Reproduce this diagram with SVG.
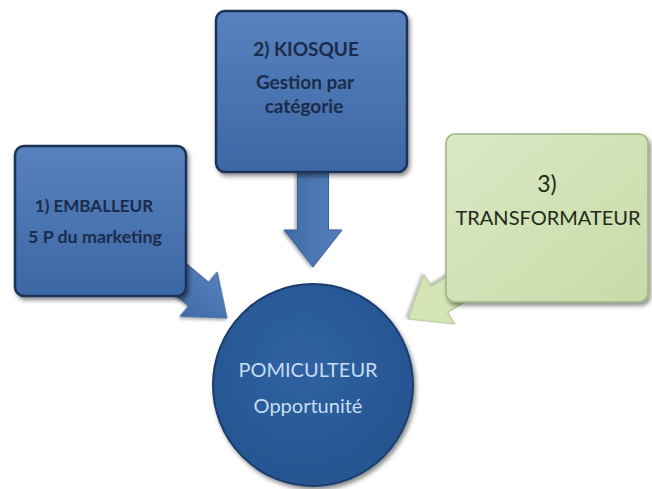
<svg xmlns="http://www.w3.org/2000/svg" width="652" height="489" viewBox="0 0 652 489">
<defs>
<linearGradient id="gBlue" x1="0" y1="0" x2="0" y2="1">
<stop offset="0" stop-color="#5882bd"/>
<stop offset="1" stop-color="#3c67a5"/>
</linearGradient>
<linearGradient id="gGreen" x1="0" y1="0" x2="1" y2="1">
<stop offset="0" stop-color="#dbe8c4"/>
<stop offset="1" stop-color="#c8dba8"/>
</linearGradient>
<linearGradient id="gArrowBlue" x1="0" y1="0" x2="0" y2="1">
<stop offset="0" stop-color="#5580bc"/>
<stop offset="1" stop-color="#3f6aa7"/>
</linearGradient>
<radialGradient id="gCircle" cx="0.45" cy="0.4" r="0.65">
<stop offset="0" stop-color="#2f62a2"/>
<stop offset="1" stop-color="#24548f"/>
</radialGradient>
<filter id="shadow" x="-10%" y="-10%" width="125%" height="125%">
<feDropShadow dx="2" dy="3" stdDeviation="2" flood-color="#000" flood-opacity="0.45"/>
</filter>
<filter id="shadowLight" x="-10%" y="-10%" width="125%" height="125%">
<feDropShadow dx="1" dy="2" stdDeviation="1.5" flood-color="#000" flood-opacity="0.3"/>
</filter>
<polygon id="arrowShape" points="0,0 -37,-29 -37,-15.5 -110,-15.5 -110,15.5 -37,15.5 -37,29"/>
</defs>
<style>
.boxBlue{fill:url(#gBlue);stroke:#1c3356;stroke-width:2.5;filter:url(#shadow)}
.boxGreen{fill:url(#gGreen);stroke:#9fb384;stroke-width:1.5;filter:url(#shadow)}
.arrowBlue{fill:url(#gArrowBlue);stroke:#3a6199;stroke-width:1;filter:url(#shadowLight)}
.arrowGreen{fill:#d4e4b6;stroke:#aabd8f;stroke-width:1;filter:url(#shadowLight)}
.circle{fill:url(#gCircle);stroke:#1a3d6c;stroke-width:2;filter:url(#shadow)}
.tDark{font-family:Lato,"Open Sans","Liberation Sans",sans-serif;font-weight:bold;fill:#1b2b4a;text-anchor:middle}
.tGreen{font-family:Lato,"Open Sans","Liberation Sans",sans-serif;font-weight:normal;fill:#1f2a17;text-anchor:middle}
.tLight{font-family:Lato,"Open Sans","Liberation Sans",sans-serif;font-weight:normal;fill:#c9dcf1;text-anchor:middle}
</style>
<rect width="652" height="489" fill="#ffffff"/>
<g id="connectors">
<use href="#arrowShape" class="arrowBlue" transform="translate(227,318) rotate(40)"/>
<use href="#arrowShape" class="arrowBlue" transform="translate(313,267) rotate(90)"/>
<use href="#arrowShape" class="arrowGreen" transform="translate(408,319) rotate(148)"/>
</g>
<g id="node-emballeur">
<rect class="boxBlue" x="15" y="146" width="171" height="150" rx="9"/>
<text class="tDark" x="94" y="212" font-size="17">1) EMBALLEUR</text>
<text class="tDark" x="95" y="243" font-size="17" textLength="134" lengthAdjust="spacingAndGlyphs">5 P du marketing</text>
</g>
<g id="node-kiosque">
<rect class="boxBlue" x="216" y="11" width="191" height="161" rx="9"/>
<text class="tDark" x="306" y="56" font-size="19">2) KIOSQUE</text>
<text class="tDark" x="305" y="89" font-size="19">Gestion par</text>
<text class="tDark" x="304" y="113" font-size="19">catégorie</text>
</g>
<g id="node-transformateur">
<rect class="boxGreen" x="446" y="134" width="202" height="168" rx="9"/>
<text class="tGreen" x="547" y="192" font-size="23">3)</text>
<text class="tGreen" x="548" y="225" font-size="20">TRANSFORMATEUR</text>
</g>
<g id="node-pomiculteur">
<ellipse class="circle" cx="313" cy="385" rx="100" ry="101"/>
<text class="tLight" x="308" y="377" font-size="20">POMICULTEUR</text>
<text class="tLight" x="308" y="413" font-size="20">Opportunité</text>
</g>
</svg>
